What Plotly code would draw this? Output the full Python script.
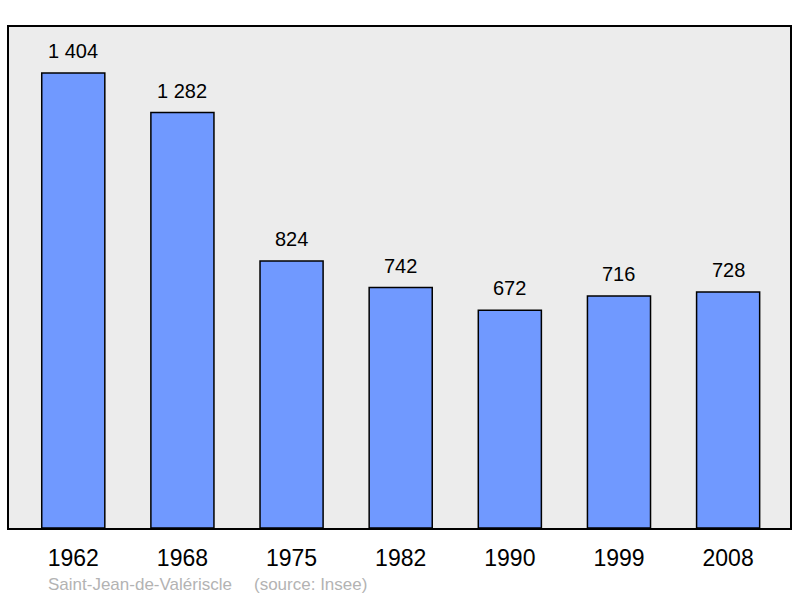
import plotly.graph_objects as go

years = ["1962", "1968", "1975", "1982", "1990", "1999", "2008"]
population = [1404, 1282, 824, 742, 672, 716, 728]
labels = ["1 404", "1 282", "824", "742", "672", "716", "728"]

FONT = "Liberation Sans, Arial, sans-serif"

fig = go.Figure()
fig.add_trace(go.Bar(
    x=years, y=population, width=0.578,
    marker=dict(color="#7099ff", line=dict(color="#000000", width=1.5)),
    hoverinfo="skip",
))

for i, (v, t) in enumerate(zip(population, labels)):
    fig.add_annotation(x=i, y=v, text=t, showarrow=False, yanchor="bottom",
                       yshift=9, font=dict(size=20, color="#000000", family=FONT))

fig.add_annotation(xref="paper", yref="paper", x=0.0475, y=-0.1118, xanchor="left",
                   yanchor="middle", showarrow=False, text="Saint-Jean-de-Valériscle",
                   font=dict(size=17, color="#b3b3b3", family=FONT))
fig.add_annotation(xref="paper", yref="paper", x=0.3106, y=-0.1118, xanchor="left",
                   yanchor="middle", showarrow=False, text="(source: Insee)",
                   font=dict(size=17, color="#b3b3b3", family=FONT))

fig.update_layout(
    width=800, height=598,
    margin=dict(l=9, r=8, t=27, b=70),
    paper_bgcolor="#ffffff",
    plot_bgcolor="#ececec",
    showlegend=False,
    font=dict(family=FONT, color="#000000"),
    xaxis=dict(type="category", range=[-0.589, 6.567], showgrid=False,
               showline=True, linecolor="#000000", linewidth=2, mirror=True,
               ticks="", tickfont=dict(size=23), ticklabelstandoff=8,
               zeroline=False, fixedrange=True),
    yaxis=dict(range=[0, 1546], showgrid=False, showticklabels=False,
               showline=True, linecolor="#000000", linewidth=2, mirror=True,
               ticks="", zeroline=False, fixedrange=True),
)

fig.write_html("out.html", config={"displayModeBar": False, "staticPlot": True},
               post_script="document.body.style.margin='0';document.body.style.overflow='hidden';")
